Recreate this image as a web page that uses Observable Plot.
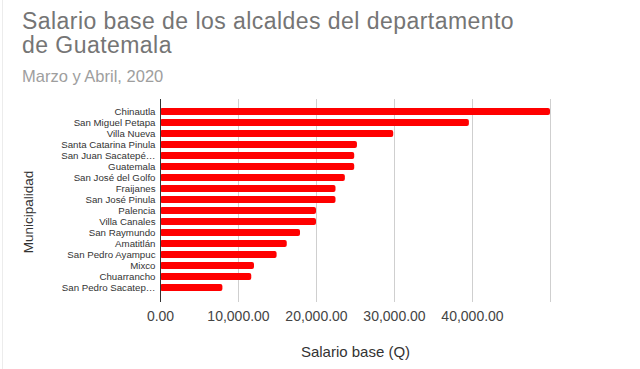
<!DOCTYPE html>
<html>
<head>
<meta charset="utf-8">
<script src="https://cdn.jsdelivr.net/npm/d3@7"></script>
<script src="https://cdn.jsdelivr.net/npm/@observablehq/plot@0.6"></script>
<style>
  body { margin: 0; background: #fff; font-family: "Liberation Sans", Arial, sans-serif; }
  #wrap { position: relative; width: 640px; height: 369px; overflow: hidden; }
  #edge { position: absolute; left: 2px; top: 0; width: 1px; height: 369px; background: #ececec; }
  #head { position: relative; height: 90px; }
  .tl { position: absolute; left: 22px; font-size: 23px; line-height: 24px; height: 24px; letter-spacing: 0.45px; color: #757575; white-space: nowrap; }
  #t1 { top: 9px; }
  #t2 { top: 33px; }
  #subtitle { position: absolute; left: 22px; top: 68px; font-size: 16.5px; line-height: 17px; color: #9e9e9e; white-space: nowrap; }
  svg { display: block; }
</style>
</head>
<body>
<div id="wrap">
  <div id="edge"></div>
  <div id="head">
    <div class="tl" id="t1">Salario base de los alcaldes del departamento</div>
    <div class="tl" id="t2">de Guatemala</div>
    <div id="subtitle">Marzo y Abril, 2020</div>
  </div>
  <div id="chart"></div>
</div>
<script>
const municipios = [
  "Chinautla", "San Miguel Petapa", "Villa Nueva", "Santa Catarina Pinula",
  "San Juan Sacatepé…", "Guatemala", "San José del Golfo", "Fraijanes",
  "San José Pinula", "Palencia", "Villa Canales", "San Raymundo",
  "Amatitlán", "San Pedro Ayampuc", "Mixco", "Chuarrancho", "San Pedro Sacatep…"
];
const salarios = [
  50000, 39600, 29900, 25250, 24900, 24900, 23700, 22500,
  22500, 20000, 20000, 17950, 16250, 14950, 12050, 11700, 8000
];
const xTicks = [0, 10000, 20000, 30000, 40000];
const gridValues = [10000, 20000, 30000, 40000, 50000];
const xLabel = "Salario base (Q)";
const yLabel = "Municipalidad";

const data = municipios.map((m, i) => ({municipio: m, salario: salarios[i]}));
const fmt = d3.format(",.2f");

const chart = Plot.plot({
  width: 640,
  height: 279,
  marginTop: 9,
  marginBottom: 67,
  marginLeft: 160,
  marginRight: 90,
  style: {fontFamily: "'Liberation Sans', Arial, sans-serif", background: "transparent"},
  x: {domain: [0, 50000], axis: null},
  y: {domain: municipios, paddingInner: 0.4, paddingOuter: 0.2, insetTop: 1, insetBottom: 3, axis: null},
  marks: [
    Plot.ruleX(gridValues, {stroke: "#cfcfcf", strokeWidth: 1}),
    Plot.barX(data, {y: "municipio", x: "salario", fill: "#ff0000", rx: 2}),
    Plot.ruleX([0], {stroke: "#333", strokeWidth: 1}),
    Plot.axisY({tickSize: 0, tickPadding: 5, fontSize: 9.7, fill: "#333", label: null}),
    Plot.axisX({ticks: xTicks, tickSize: 0, tickPadding: 9, fontSize: 14, fill: "#444", tickFormat: fmt, label: null}),
    Plot.text([xLabel], {frameAnchor: "bottom", dy: 50, fontSize: 15, fill: "#333", lineAnchor: "middle"}),
    Plot.text([yLabel], {frameAnchor: "left", dx: -132, dy: 11, rotate: -90, fontSize: 13.5, fill: "#333", textAnchor: "middle", lineAnchor: "middle"})
  ]
});
document.getElementById("chart").appendChild(chart);
</script>
</body>
</html>
